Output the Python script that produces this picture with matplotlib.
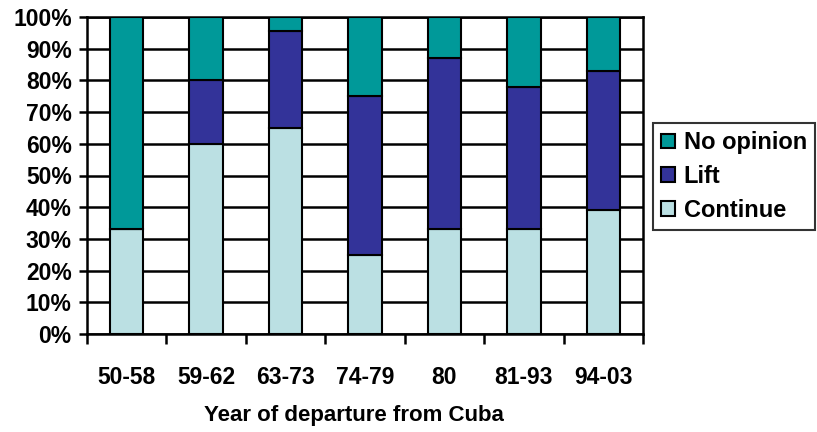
import matplotlib
matplotlib.use("Agg")
from matplotlib import pyplot as plt
import numpy as np

plt.rcParams["font.family"] = ["Liberation Sans", "DejaVu Sans"]
plt.rcParams["font.weight"] = "bold"
plt.rcParams["axes.labelweight"] = "bold"

# data (percent of respondents)
periods = ["50-58", "59-62", "63-73", "74-79", "80", "81-93", "94-03"]
continue_pct = [33, 60, 65, 25, 33, 33, 39]
lift_pct = [0, 20, 30.5, 50, 54, 45, 44]
no_opinion_pct = [67, 20, 4.5, 25, 13, 22, 17]

series = [
    ("Continue", continue_pct, "#bbe0e3"),
    ("Lift", lift_pct, "#333399"),
    ("No opinion", no_opinion_pct, "#009999"),
]

fig = plt.figure(figsize=(8.17, 4.32), dpi=100)
ax = fig.add_axes([0.1065, 0.2269, 0.6805, 0.7337])

x = np.arange(len(periods))
bottom = np.zeros(len(periods))
handles = []
for name, vals, color in series:
    vals = np.array(vals, dtype=float)
    h = ax.bar(x, vals, width=0.42, bottom=bottom, color=color,
               edgecolor="black", linewidth=1.5, label=name, zorder=3)
    handles.append(h)
    bottom += vals

ax.set_xlim(-0.5, len(periods) - 0.5)
ax.set_ylim(0, 100)
ax.set_yticks(np.arange(0, 101, 10))
ax.set_yticklabels([f"{v}%" for v in range(0, 101, 10)], fontsize=16.5)
ax.yaxis.grid(True, color="black", linewidth=1.8, zorder=0)

# ticks between categories, labels at centres
ax.set_xticks(np.arange(-0.5, len(periods), 1.0))
ax.set_xticklabels([])
ax.set_xticks(x, minor=True)
ax.set_xticklabels(periods, minor=True, fontsize=16.5)
ax.tick_params(axis="x", which="minor", length=0, pad=23)
ax.tick_params(axis="x", which="major", length=7, width=1.8)
ax.tick_params(axis="y", length=6, width=1.8, pad=5)

for sp in ax.spines.values():
    sp.set_linewidth(1.8)

ax.set_xlabel("Year of departure from Cuba", fontsize=16)
ax.xaxis.set_label_coords(0.48, -0.225)

leg = ax.legend(handles[::-1], [s[0] for s in series][::-1],
                loc="center left", bbox_to_anchor=(1.018, 0.497),
                fontsize=17, frameon=True, fancybox=False, edgecolor="black",
                handlelength=0.6, handleheight=0.6, handletextpad=0.35,
                borderpad=0.35, labelspacing=0.45, borderaxespad=0)
leg.get_frame().set_linewidth(1.5)

fig.savefig("out.png", dpi=100)
